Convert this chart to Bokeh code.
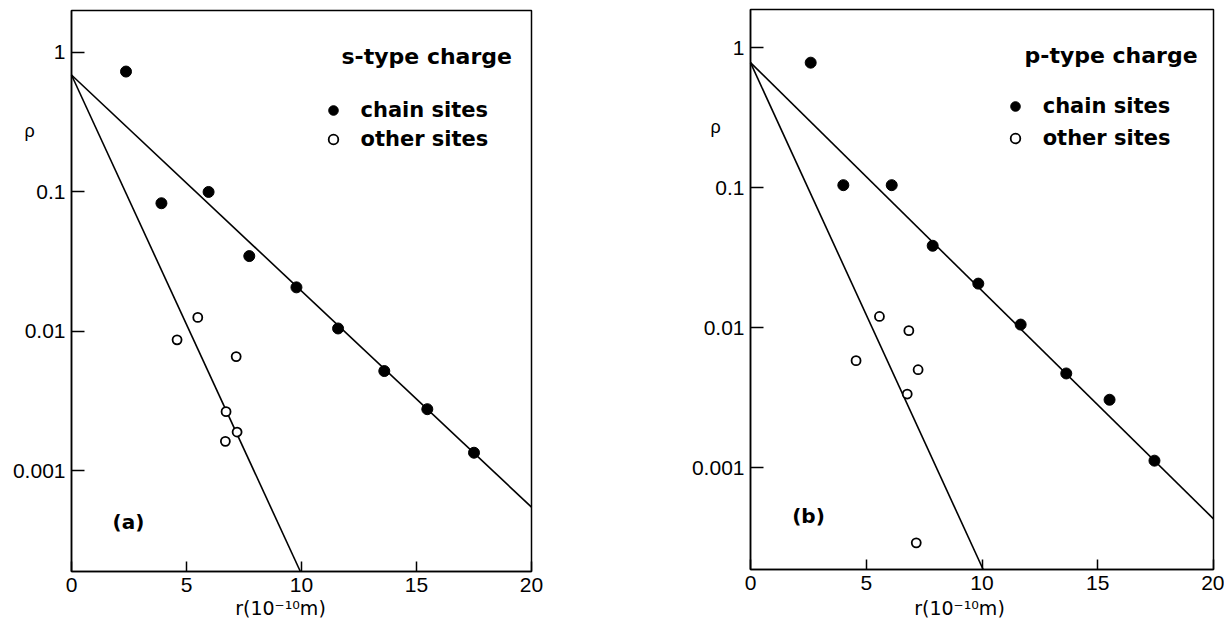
import math
from bokeh.plotting import figure
from bokeh.layouts import row
from bokeh.models import (FixedTicker, Label, Legend, LegendItem, Range1d,
                          LinearAxis, LogAxis, LogScale)
from bokeh.embed import file_html
from bokeh.resources import INLINE

# ---------------- data ----------------
x_ticks = [0, 5, 10, 15, 20]
y_ticks = [1, 0.1, 0.01, 0.001]
y_tick_labels = ["1", "0.1", "0.01", "0.001"]

# panel (a): s-type charge
r_chain_a = [2.37, 3.91, 5.96, 7.73, 9.78, 11.59, 13.6, 15.47, 17.5]
rho_chain_a = [0.73, 0.083, 0.1, 0.0347, 0.0207, 0.0105, 0.0052, 0.00277, 0.00135]
r_other_a = [4.59, 5.49, 7.16, 6.72, 7.2, 6.69]
rho_other_a = [0.0087, 0.0126, 0.0066, 0.00266, 0.0019, 0.00163]
fit_chain_a_r = [0, 20]
fit_chain_a_rho = [0.69, 0.00055]
fit_other_a_r = [0, 9.95]
fit_other_a_rho = [0.69, 0.00019]

# panel (b): p-type charge
r_chain_b = [2.6, 4.01, 6.1, 7.87, 9.84, 11.67, 13.64, 15.51, 17.45]
rho_chain_b = [0.78, 0.104, 0.104, 0.0384, 0.0206, 0.0105, 0.0047, 0.00305, 0.00112]
r_other_b = [4.56, 5.57, 6.84, 7.24, 6.77, 7.16]
rho_other_b = [0.0058, 0.012, 0.0095, 0.005, 0.00335, 0.00029]
fit_chain_b_r = [0, 20]
fit_chain_b_rho = [0.78, 0.00043]
fit_other_b_r = [0, 10.05]
fit_other_b_rho = [0.78, 0.000187]

# axis extents of the drawn box
R_MIN, R_MAX = 0, 20
RHO_A = (0.00019, 2.0)
RHO_B = (0.000187, 1.87)

TICK_FONT = "Liberation Sans"
BOLD_FONT = "DejaVu Sans"
FIG_W, FIG_H = 612, 624


def make_panel(rc, pc, ro, po, fcr, fcp, for_, fop, rho_rng, box,
               heading, heading_px, panel_tag, tag_px, rho_px, r_label_px,
               glyph_cx, legend_rows, label_left):
    y_lo, y_hi = rho_rng
    bl, br, bt, bb = box  # box pixel edges inside the figure
    ux = (R_MAX - R_MIN) / (br - bl)
    x0 = R_MIN - bl * ux
    x1 = R_MAX + (FIG_W - br) * ux
    dec = math.log10(y_hi / y_lo) / (bb - bt)
    y1 = 10 ** (math.log10(y_hi) + bt * dec)
    y0 = 10 ** (math.log10(y_lo) - (FIG_H - bb) * dec)

    def to_data(px, py):
        return (R_MIN + (px - bl) * ux,
                10 ** (math.log10(y_hi) - (py - bt) * dec))

    p = figure(width=FIG_W, height=FIG_H, y_axis_type=None, x_axis_type=None,
               x_range=Range1d(x0, x1), y_range=Range1d(y0, y1),
               output_backend="svg", toolbar_location=None,
               min_border_left=0, min_border_right=0,
               min_border_top=0, min_border_bottom=0)
    p.y_scale = LogScale()
    p.background_fill_color = "white"
    p.border_fill_color = "white"
    p.outline_line_color = None

    xaxis = LinearAxis(fixed_location=y_lo, bounds=(R_MIN, R_MAX),
                       ticker=FixedTicker(ticks=x_ticks))
    yaxis = LogAxis(fixed_location=R_MIN, bounds=(y_lo, y_hi),
                    ticker=FixedTicker(ticks=y_ticks))
    yaxis.major_label_overrides = {t: s for t, s in zip(y_ticks, y_tick_labels)}
    for ax in (xaxis, yaxis):
        ax.axis_line_color = "black"
        ax.axis_line_width = 1.5
        ax.major_tick_line_color = "black"
        ax.major_tick_line_width = 1.5
        ax.major_tick_out = 0
        ax.minor_tick_line_color = None
        ax.major_label_text_font = TICK_FONT
        ax.major_label_text_font_size = "21px"
        ax.major_label_text_color = "black"
    xaxis.major_tick_in = 10
    yaxis.major_tick_in = 13
    xaxis.major_label_standoff = 6
    yaxis.major_label_standoff = 6
    p.add_layout(xaxis, "below")
    p.add_layout(yaxis, "left")

    # box around the plotting area
    p.quad(left=[R_MIN], right=[R_MAX], bottom=[y_lo], top=[y_hi],
           fill_color=None, line_color="black", line_width=1.5)

    # fitted lines
    p.line(fcr, fcp, line_color="black", line_width=1.6)
    p.line(for_, fop, line_color="black", line_width=1.6)

    # data points
    r_chain = p.scatter(rc, pc, marker="circle", size=11, fill_color="black",
                        line_color="black")
    r_other = p.scatter(ro, po, marker="circle", size=9, fill_color="white",
                        line_color="black", line_width=1.8)

    row_h = 26
    gw = 24
    spacing = (legend_rows[1] - legend_rows[0]) - row_h
    bottom_px = legend_rows[1] + row_h / 2
    left_px = glyph_cx - gw / 2
    legend = Legend(items=[LegendItem(label="chain sites", renderers=[r_chain]),
                           LegendItem(label="other sites", renderers=[r_other])],
                    location=(left_px, FIG_H - bottom_px), orientation="vertical",
                    background_fill_alpha=0, border_line_color=None,
                    padding=0, margin=0, spacing=int(spacing),
                    glyph_width=gw, glyph_height=row_h, label_height=row_h,
                    label_standoff=int(label_left - (left_px + gw)),
                    label_text_font=BOLD_FONT, label_text_font_style="bold",
                    label_text_font_size="21px", label_text_color="black")
    p.add_layout(legend)

    hx, hy = to_data(*heading_px)
    p.add_layout(Label(x=hx, y=hy, text=heading,
                       text_font=BOLD_FONT, text_font_style="bold",
                       text_font_size="22px", text_align="left",
                       text_baseline="middle", text_color="black"))
    tx, ty = to_data(*tag_px)
    p.add_layout(Label(x=tx, y=ty, text=panel_tag,
                       text_font=BOLD_FONT, text_font_style="bold",
                       text_font_size="20px", text_align="center",
                       text_baseline="middle", text_color="black"))
    gx, gy = to_data(*rho_px)
    p.add_layout(Label(x=gx, y=gy, text="ρ",
                       text_font=TICK_FONT, text_font_size="18px",
                       text_align="center", text_baseline="middle",
                       text_color="black"))
    lx, ly = to_data(*r_label_px)
    p.add_layout(Label(x=lx, y=ly, text="r(10⁻¹⁰m)",
                       text_font=BOLD_FONT, text_font_size="19px",
                       text_align="center", text_baseline="middle",
                       text_color="black"))
    return p


pa = make_panel(r_chain_a, rho_chain_a, r_other_a, rho_other_a,
                fit_chain_a_r, fit_chain_a_rho, fit_other_a_r, fit_other_a_rho,
                RHO_A, (71, 531, 10, 571),
                "s-type charge", (341, 56), "(a)", (128, 521), (29, 130), (280, 607),
                332.5, (110, 139), 361)

pb = make_panel(r_chain_b, rho_chain_b, r_other_b, rho_other_b,
                fit_chain_b_r, fit_chain_b_rho, fit_other_b_r, fit_other_b_rho,
                RHO_B, (138, 601, 9, 569),
                "p-type charge", (412, 55), "(b)", (196, 515), (103, 126), (347, 607),
                402.7, (106, 138), 431)

layout = row(pa, pb)
open("out.html", "w").write(file_html(layout, INLINE))
